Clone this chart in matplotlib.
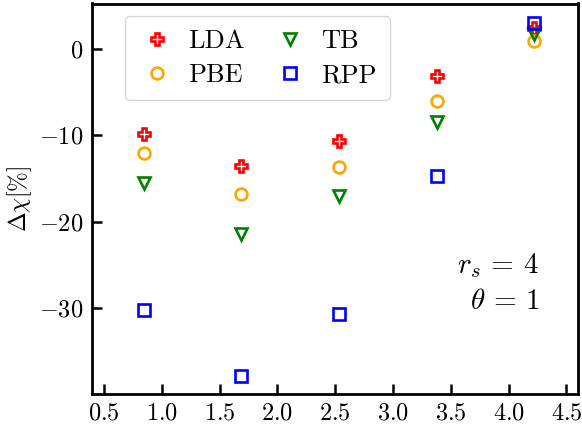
import matplotlib
matplotlib.use("Agg")
import matplotlib.pyplot as plt

plt.rcParams['font.family'] = 'serif'
plt.rcParams['font.serif'] = ['cmr10']
plt.rcParams['mathtext.fontset'] = 'cm'
plt.rcParams['axes.formatter.use_mathtext'] = True

x = [0.844, 1.688, 2.532, 3.376, 4.22]
lda = [-9.8, -13.5, -10.7, -3.1, 2.5]
pbe = [-12.1, -16.8, -13.7, -6.0, 0.9]
tb = [-15.5, -21.4, -17.0, -8.4, 1.8]
rpp = [-30.2, -37.9, -30.7, -14.7, 3.0]

fig = plt.figure(figsize=(5.82, 4.25), dpi=100)
ax = fig.add_axes([92/582, 1-394/425, 486/582, 390.5/425])

kw = dict(ls='none', mfc='none', ms=8.5, mew=1.9)
ax.plot(x, lda, marker='P', color='red', label='LDA', **kw)
ax.plot(x, pbe, marker='o', color='orange', label='PBE', **kw)
ax.plot(x, tb, marker='v', color='green', label='TB', **kw)
ax.plot(x, rpp, marker='s', color='blue', label='RPP', **kw)

ax.set_xlim(0.396, 4.6)
ax.set_ylim(-40.0, 5.3)
ax.set_xticks([0.5, 1.0, 1.5, 2.0, 2.5, 3.0, 3.5, 4.0, 4.5])
ax.set_yticks([0, -10, -20, -30])
ax.tick_params(direction='in', length=7, width=1.8, labelsize=17.5, pad=6)
for s in ax.spines.values():
    s.set_linewidth(2.0)
ax.set_ylabel(r'$\Delta\chi[\%]$', fontsize=17, labelpad=4)

ax.legend(ncol=2, loc='upper left', bbox_to_anchor=(0.068, 0.968), borderaxespad=0,
          fontsize=19, handletextpad=0.5, columnspacing=1.0, borderpad=0.5,
          labelspacing=0.4, handlelength=1.4, framealpha=0.8, fancybox=True)

ax.text(0.92, 0.284, r'$r_s\,=\,4$' + '\n' + r'$\theta\,=\,1$', transform=ax.transAxes,
        ha='right', va='center', multialignment='right', fontsize=21, linespacing=1.45)

fig.savefig('out.png', dpi=100)
